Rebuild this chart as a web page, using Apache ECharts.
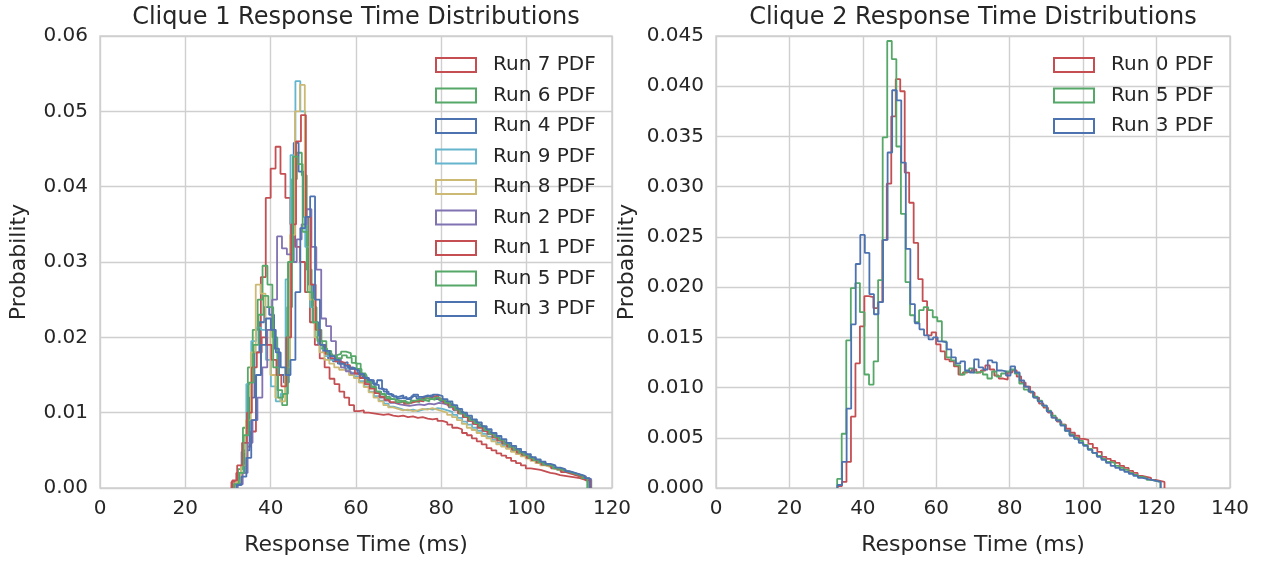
<!DOCTYPE html>
<html>
<head>
<meta charset="utf-8">
<script src="https://cdn.jsdelivr.net/npm/echarts@6/dist/echarts.min.js"></script>
<style>html,body{margin:0;padding:0;background:#fff}#c{width:1268px;height:561px}</style>
</head>
<body>
<div id="c"></div>
<script>
// ---------------- Clique 1 (left) ----------------
const c1Names = ['Run 7 PDF','Run 6 PDF','Run 4 PDF','Run 9 PDF','Run 8 PDF','Run 2 PDF','Run 1 PDF','Run 5 PDF','Run 3 PDF'];
const c1Colors = ['#C44E52','#55A868','#4C72B0','#64B5CD','#CCB974','#8172B2','#C44E52','#55A868','#4C72B0'];
const c1Starts = [30.8, 31.2, 31.6, 32.0, 31.9, 32.3, 31.0, 31.4, 32.0]; // first bin edge (ms)
const c1BinWidth = 1.15;
const c1_run7 = [0.0008,0.002,0.003,0.0055,0.0075,0.015,0.028,0.0385,0.0424,0.0453,0.0417,0.0385,0.035,0.032,0.030,0.026,0.022,0.019,
  0.0172,0.016,0.0145,0.0138,0.0128,0.012,0.011,0.0102,0.0103,0.0100,0.0099,0.0098,0.0097,0.0098,0.0096,0.0095,0.0096,0.0094,0.0095,0.0093,
  0.0094,0.0092,0.0091,0.0092,0.0089,0.0087,0.0084,0.008,0.0078,0.0073,0.007,0.0066,0.0062,0.0058,0.0053,0.005,0.0046,0.0043,0.004,0.0036,
  0.0033,0.003,0.0026,0.0025,0.0024,0.0022,0.002,0.0019,0.0017,0.0016,0.0015,0.0014,0.0013,0.0011,0.0009];
const c1_run6 = [0.0005,0.0025,0.008,0.016,0.021,0.025,0.0295,0.027,0.02,0.013,0.011,0.024,0.041,0.0445,0.0415,0.029,0.024,0.021,
  0.0195,0.0182,0.0176,0.0178,0.0181,0.0179,0.0175,0.0165,0.0152,0.0143,0.0135,0.0128,0.0125,0.0121,0.0118,0.0116,0.0115,0.0113,0.0115,0.0114,
  0.0117,0.0115,0.0118,0.0119,0.0116,0.0114,0.0111,0.0106,0.0101,0.0096,0.009,0.0087,0.0081,0.0077,0.0073,0.0068,0.0064,0.006,0.0056,0.0052,
  0.0048,0.0044,0.0041,0.0037,0.0034,0.0032,0.0029,0.0027,0.0024,0.0022,0.002,0.0018,0.0016,0.0013,0.0011];
const c1_run4 = [0.0005,0.002,0.005,0.012,0.018,0.022,0.024,0.023,0.0185,0.015,0.014,0.03,0.0458,0.042,0.036,0.027,0.022,0.019,
  0.018,0.0172,0.0168,0.0165,0.0167,0.016,0.0158,0.0152,0.0147,0.0143,0.0139,0.0143,0.0131,0.0125,0.0122,0.0119,0.0121,0.0118,0.0122,0.0119,
  0.0121,0.0123,0.0121,0.0118,0.0115,0.0113,0.0109,0.0104,0.0099,0.0094,0.009,0.0085,0.0081,0.0076,0.0072,0.0067,0.0063,0.0059,0.0055,0.0051,
  0.0047,0.0043,0.004,0.0037,0.0034,0.0031,0.0029,0.0026,0.0024,0.0022,0.002,0.0018,0.0016,0.0013];
const c1_run9 = [0.001,0.0048,0.0138,0.0195,0.0213,0.021,0.017,0.0135,0.0115,0.0125,0.0277,0.0442,0.054,0.05,0.032,0.024,0.02,0.0185,
  0.0175,0.017,0.0168,0.0164,0.0158,0.0153,0.0148,0.0142,0.0135,0.0128,0.0122,0.0116,0.0112,0.0108,0.0106,0.0104,0.0103,0.0104,0.0102,0.0104,
  0.0105,0.0104,0.0106,0.0105,0.0103,0.0101,0.0097,0.0093,0.0088,0.0084,0.008,0.0076,0.0072,0.0068,0.0064,0.006,0.0057,0.0053,0.005,0.0046,
  0.0043,0.004,0.0037,0.0034,0.0031,0.0029,0.0027,0.0025,0.0022,0.002,0.0018,0.0016,0.0014,0.0012];
const c1_run8 = [0.0008,0.003,0.009,0.018,0.027,0.0258,0.021,0.015,0.012,0.0115,0.016,0.0336,0.05,0.0535,0.036,0.025,0.02,0.018,
  0.017,0.0165,0.016,0.0157,0.0155,0.015,0.0146,0.014,0.0134,0.0127,0.012,0.0115,0.011,0.0107,0.0105,0.0103,0.0104,0.0102,0.0103,0.0105,
  0.0104,0.0106,0.0104,0.0102,0.01,0.0097,0.0094,0.009,0.0085,0.008,0.0077,0.0073,0.0069,0.0066,0.0062,0.0058,0.0055,0.0052,0.0048,0.0045,
  0.0042,0.0039,0.0036,0.0033,0.003,0.0028,0.0026,0.0024,0.0022,0.002,0.0018,0.0016,0.0014,0.0012];
const c1_run2 = [0.0005,0.002,0.006,0.009,0.012,0.016,0.021,0.025,0.0334,0.0318,0.031,0.03,0.033,0.035,0.037,0.032,0.029,0.0225,
  0.0215,0.0195,0.0172,0.016,0.0155,0.0152,0.015,0.0146,0.014,0.0133,0.0126,0.012,0.0116,0.0113,0.0111,0.011,0.0109,0.011,0.0111,0.011,
  0.0112,0.0111,0.0113,0.0112,0.011,0.0107,0.0103,0.0099,0.0094,0.0089,0.0085,0.0081,0.0076,0.0072,0.0068,0.0064,0.006,0.0056,0.0052,0.0048,
  0.0045,0.0041,0.0038,0.0035,0.0032,0.003,0.0027,0.0025,0.0023,0.0021,0.0019,0.0017,0.0015,0.0012];
const c1_run1 = [0.001,0.003,0.006,0.01,0.016,0.018,0.02,0.019,0.017,0.015,0.0135,0.02,0.035,0.046,0.0495,0.036,0.027,0.021,
  0.019,0.0178,0.0172,0.0168,0.0166,0.0163,0.0158,0.0152,0.0146,0.0138,0.0132,0.0126,0.0121,0.0117,0.0114,0.0113,0.0115,0.0112,0.0114,0.0116,
  0.0115,0.0119,0.0121,0.0123,0.0118,0.0113,0.0109,0.0104,0.0099,0.0094,0.0089,0.0085,0.008,0.0076,0.0072,0.0067,0.0063,0.0059,0.0055,0.0051,
  0.0047,0.0044,0.004,0.0037,0.0034,0.0031,0.0029,0.0026,0.0024,0.0021,0.0019,0.0017,0.0015,0.0013,0.001];
const c1_run5 = [0.0005,0.002,0.007,0.014,0.019,0.023,0.0255,0.024,0.016,0.012,0.0125,0.03,0.044,0.043,0.034,0.026,0.022,0.0195,
  0.0185,0.0178,0.0175,0.0172,0.0176,0.0173,0.0166,0.0158,0.015,0.0141,0.0134,0.0128,0.0124,0.0119,0.0117,0.0114,0.0116,0.0113,0.0116,0.0118,
  0.0116,0.0119,0.0117,0.012,0.0117,0.0113,0.0108,0.0104,0.0099,0.0095,0.009,0.0086,0.0082,0.0077,0.0072,0.0068,0.0064,0.0059,0.0055,0.0051,
  0.0047,0.0044,0.004,0.0037,0.0034,0.0031,0.0029,0.0026,0.0024,0.0022,0.002,0.0018,0.0016,0.0013];
const c1_run3 = [0.0004,0.0015,0.004,0.009,0.015,0.019,0.0225,0.021,0.018,0.016,0.015,0.017,0.026,0.0345,0.036,0.0387,0.025,0.019,
  0.0182,0.0175,0.017,0.0165,0.0162,0.0158,0.0156,0.0151,0.0146,0.0143,0.0137,0.0132,0.0128,0.0124,0.0121,0.0123,0.0119,0.0121,0.0124,0.0121,
  0.0123,0.0121,0.0124,0.0122,0.0118,0.0115,0.011,0.0105,0.01,0.0096,0.0091,0.0087,0.0082,0.0078,0.0073,0.0069,0.0065,0.006,0.0056,0.0052,
  0.0048,0.0045,0.0041,0.0038,0.0035,0.0032,0.003,0.0027,0.0025,0.0022,0.002,0.0018,0.0016,0.0013];
const c1Values = [c1_run7,c1_run6,c1_run4,c1_run9,c1_run8,c1_run2,c1_run1,c1_run5,c1_run3];
const c1XTicks = {min: 0, max: 120, interval: 20};
const c1YTicks = {min: 0, max: 0.06, interval: 0.01};

// ---------------- Clique 2 (right) ----------------
const c2Names = ['Run 0 PDF','Run 5 PDF','Run 3 PDF'];
const c2Colors = ['#C44E52','#55A868','#4C72B0'];
const c2Starts = [33.1, 33.0, 33.1];
const c2BinWidths = [1.22, 1.24, 1.24];
const c2_run0 = [0.0002,0.0006,0.0026,0.0071,0.0124,0.0161,0.0191,0.019,0.0179,0.0185,0.0247,0.0303,0.037,0.0407,0.0395,0.0314,0.0284,0.0244,0.0208,
  0.0186,0.0152,0.0155,0.0143,0.0136,0.0128,0.0126,0.0121,0.0113,0.0115,0.0116,0.0118,0.0115,0.0117,0.0122,0.0118,0.0112,0.0109,0.0108,0.0115,
  0.0117,0.0111,0.0105,0.0101,0.0095,0.009,0.0084,0.008,0.0075,0.007,0.0066,0.0063,0.0059,0.0055,0.0052,0.0049,0.0048,0.0044,0.004,0.0036,
  0.0031,0.0029,0.0027,0.0025,0.0022,0.002,0.0017,0.0015,0.0012,0.0011,0.001,0.0008,0.0007,0.0006];
const c2_run5 = [0.0009,0.0054,0.0147,0.0199,0.0204,0.0175,0.0113,0.0103,0.0126,0.0207,0.0349,0.0445,0.0427,0.034,0.0273,0.0205,0.0172,0.0165,
  0.0177,0.018,0.0177,0.017,0.0166,0.0146,0.013,0.0127,0.0122,0.0113,0.0116,0.0119,0.0115,0.0116,0.0113,0.0109,0.0116,0.0111,0.0114,0.0116,
  0.0118,0.0114,0.0104,0.0098,0.0096,0.0091,0.0087,0.0082,0.0077,0.0072,0.0068,0.0063,0.0057,0.0053,0.005,0.0047,0.0043,0.0039,0.0035,0.0032,
  0.0029,0.0026,0.0025,0.0022,0.002,0.0018,0.0015,0.0013,0.0011,0.001,0.0008,0.0007,0.0006];
const c2_run3 = [0.0003,0.0026,0.0079,0.0163,0.0223,0.0252,0.0234,0.0193,0.0173,0.0185,0.0247,0.0334,0.0396,0.0386,0.0324,0.0238,0.0183,0.0164,
  0.0158,0.0152,0.0148,0.015,0.0146,0.0145,0.0138,0.013,0.0124,0.0126,0.0117,0.0115,0.0128,0.012,0.0118,0.0127,0.0125,0.0117,0.0116,0.0112,
  0.0121,0.0115,0.0107,0.0101,0.0096,0.009,0.0086,0.0082,0.0076,0.007,0.0067,0.0062,0.0057,0.0052,0.0049,0.0045,0.0042,0.0038,0.0035,0.0031,
  0.0028,0.0025,0.0022,0.002,0.0018,0.0016,0.0014,0.0012,0.001,0.0009,0.0008,0.0007,0.0006];
const c2Values = [c2_run0,c2_run5,c2_run3];
const c2XTicks = {min: 0, max: 140, interval: 20};
const c2YTicks = {min: 0, max: 0.045, interval: 0.005};

// ---------------- build ----------------
function stepOutline(start, w, vals) {
  const pts = [[start, 0]];
  vals.forEach((v, i) => { pts.push([start + i * w, v]); pts.push([start + (i + 1) * w, v]); });
  pts.push([start + vals.length * w, 0]);
  return pts;
}
const FONT = 'DejaVu Sans';
const TXT = '#262626';
const GRIDC = '#cfcfcf';

function xAx(idx, t) {
  return {
    type: 'value', gridIndex: idx, min: t.min, max: t.max, interval: t.interval,
    name: 'Response Time (ms)', nameLocation: 'middle', nameGap: 46,
    nameTextStyle: {fontFamily: FONT, fontSize: 22, color: TXT},
    axisLine: {show: false}, axisTick: {show: false},
    axisLabel: {fontFamily: FONT, fontSize: 20, color: TXT, margin: 11},
    splitLine: {show: true, lineStyle: {color: GRIDC, width: 1.4}}
  };
}
function yAx(idx, t, dec, gap) {
  return {
    type: 'value', gridIndex: idx, min: t.min, max: t.max, interval: t.interval,
    name: 'Probability', nameLocation: 'middle', nameGap: gap,
    nameTextStyle: {fontFamily: FONT, fontSize: 22, color: TXT},
    axisLine: {show: false}, axisTick: {show: false},
    axisLabel: {fontFamily: FONT, fontSize: 20, color: TXT, margin: 12, formatter: v => v.toFixed(dec)},
    splitLine: {show: true, lineStyle: {color: GRIDC, width: 1.4}}
  };
}

const series = [];
c1Values.forEach((vals, i) => series.push({
  name: c1Names[i], type: 'line', xAxisIndex: 0, yAxisIndex: 0,
  data: stepOutline(c1Starts[i], c1BinWidth, vals),
  showSymbol: false, symbol: 'none', silent: true,
  lineStyle: {color: c1Colors[i], width: 1.8}, itemStyle: {color: c1Colors[i]}
}));
c2Values.forEach((vals, i) => series.push({
  name: c2Names[i], type: 'line', xAxisIndex: 1, yAxisIndex: 1,
  data: stepOutline(c2Starts[i], c2BinWidths[i], vals),
  showSymbol: false, symbol: 'none', silent: true,
  lineStyle: {color: c2Colors[i], width: 1.8}, itemStyle: {color: c2Colors[i]}
}));

function legendData(names, colors) {
  return names.map((n, i) => ({
    name: n, icon: 'rect',
    itemStyle: {color: 'rgba(0,0,0,0)', borderColor: colors[i], borderWidth: 2}
  }));
}
const legendCommon = {
  orient: 'vertical', itemWidth: 40, itemHeight: 14, itemGap: 10.5, selectedMode: false,
  textStyle: {fontFamily: FONT, fontSize: 20, color: TXT, lineHeight: 20, padding: [0, 0, 0, 12]}
};

const chart = echarts.init(document.getElementById('c'), null, {renderer: 'canvas'});
chart.setOption({
  animation: false,
  backgroundColor: '#fff',
  grid: [
    {left: 100, right: 656, top: 36, bottom: 72, show: true, borderColor: GRIDC, borderWidth: 1.4, backgroundColor: 'transparent'},
    {left: 716, right: 38, top: 36, bottom: 72, show: true, borderColor: GRIDC, borderWidth: 1.4, backgroundColor: 'transparent'}
  ],
  xAxis: [xAx(0, c1XTicks), xAx(1, c2XTicks)],
  yAxis: [yAx(0, c1YTicks, 2, 70), yAx(1, c2YTicks, 3, 78)],
  legend: [
    Object.assign({left: 430, top: 50, data: legendData(c1Names, c1Colors)}, legendCommon),
    Object.assign({left: 1048, top: 50, data: legendData(c2Names, c2Colors)}, legendCommon)
  ],
  graphic: [
    {type: 'text', x: 356, y: 18, style: {text: 'Clique 1 Response Time Distributions', fontFamily: FONT, fontSize: 24, fill: TXT, textAlign: 'center', textVerticalAlign: 'middle'}},
    {type: 'text', x: 973, y: 18, style: {text: 'Clique 2 Response Time Distributions', fontFamily: FONT, fontSize: 24, fill: TXT, textAlign: 'center', textVerticalAlign: 'middle'}}
  ],
  series: series
});
</script>
</body>
</html>
